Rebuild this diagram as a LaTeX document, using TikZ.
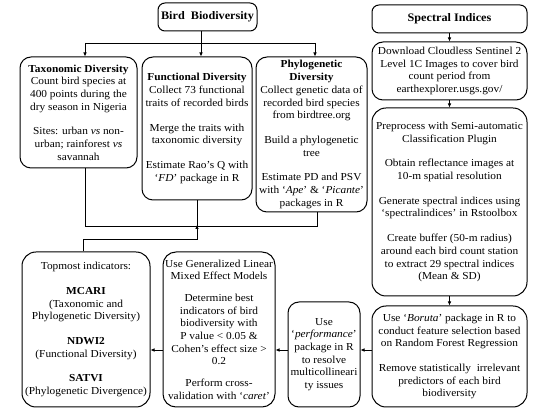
\documentclass[tikz,border=0pt]{standalone}
\usepackage{fontspec}
\setmainfont{Liberation Serif}[FakeStretch=1.06]
\usetikzlibrary{arrows.meta}
\begin{document}
\begin{tikzpicture}[x=1pt,y=-1pt,
  box/.style={draw, line width=1pt, rounded corners=11pt, align=center, inner sep=0pt,
    font=\fontsize{10.7}{12.7}\selectfont},
  title/.style={box, font=\fontsize{11.5}{13}\selectfont\bfseries},
  arr/.style={-{Latex[length=4pt,width=3.6pt]}, line width=0.9pt},
  ln/.style={line width=0.9pt}]
\useasboundingbox (0,0) rectangle (544,411);
\fill[white] (0,0) rectangle (544,411);
% left part
\node[title, minimum width=99pt, minimum height=28pt, rounded corners=7pt] (bb) at (207.5,17) {Bird\ \ Biodiversity};
\node[box, minimum width=117pt, minimum height=111pt] (tax) at (78.5,112.5)
 {\textbf{Taxonomic Diversity}\\Count bird species at\\400 points during the\\dry season in Nigeria\\[12pt]
  Sites: urban \textit{vs} non-\\urban; rainforest \textit{vs}\\savannah};
\node[box, minimum width=110pt, minimum height=143pt] (fun) at (197,128.5)
 {\textbf{Functional Diversity}\\Collect 73 functional\\traits of recorded birds\\[12pt]
  Merge the traits with\\taxonomic diversity\\[12pt]
  Estimate Rao's Q with\\`\textit{FD}' package in R};
\node[box, minimum width=111pt, minimum height=155pt] (phy) at (311.5,134.5)
 {\textbf{Phylogenetic}\\\textbf{Diversity}\\Collect genetic data of\\recorded bird species\\from birdtree.org\\[12pt]
  Build a phylogenetic\\tree\\[12pt]
  Estimate PD and PSV\\with `\textit{Ape}' \& `\textit{Picante}'\\packages in R};
% right column
\node[title, minimum width=155pt, minimum height=28pt, rounded corners=7pt] (spec) at (449.5,19) {Spectral Indices};
\node[box, minimum width=155pt, minimum height=58pt] (dl) at (449.5,71)
 {Download Cloudless Sentinel 2\\Level 1C Images to cover bird\\count period from\\earthexplorer.usgs.gov/};
\node[box, minimum width=155pt, minimum height=188pt, rounded corners=14pt] (pre) at (449.5,202)
 {Preprocess with Semi-automatic\\Classification Plugin\\[12pt]
  Obtain reflectance images at\\10-m spatial resolution\\[12pt]
  Generate spectral indices using\\`spectralindices' in Rstoolbox\\[12pt]
  Create buffer (50-m radius)\\around each bird count station\\to extract 29 spectral indices\\(Mean \& SD)};
\node[box, minimum width=155pt, minimum height=101pt, rounded corners=14pt] (bor) at (449.5,356.5)
 {Use `\textit{Boruta}' package in R to\\conduct feature selection based\\on Random Forest Regression\\[12pt]
  Remove statistically\ \ irrelevant\\predictors of each bird\\biodiversity};
\node[box, minimum width=72pt, minimum height=105pt] (perf) at (324,354.5)
 {Use\\`\textit{performance}'\\package in R\\to resolve\\multicollineari\\ty issues};
\node[box, minimum width=112pt, minimum height=155pt, rounded corners=13pt] (glmm) at (219,329.5)
 {Use Generalized Linear\\Mixed Effect Models\\[9pt]
  Determine best\\indicators of bird\\biodiversity with\\P value < 0.05 \&\\Cohen's effect size >\\0.2\\[9pt]
  Perform cross-\\validation with `\textit{caret}'};
\node[box, minimum width=128pt, minimum height=155pt, rounded corners=14pt] (top) at (86,329.5)
 {Topmost indicators:\\[12pt]
  \textbf{MCARI}\\(Taxonomic and\\Phylogenetic Diversity)\\[12pt]
  \textbf{NDWI2}\\(Functional Diversity)\\[12pt]
  \textbf{SATVI}\\(Phylogenetic Divergence)};
% connectors top
\coordinate (j1) at (201,43);
\coordinate (jt) at (85,43);
\coordinate (jp) at (315,43);
\draw[ln] (bb.south -| j1) -- (j1);
\draw[ln] (jt) -- (jp);
\draw[arr] (jt) -- (jt |- tax.north);
\draw[arr] (j1) -- (j1 |- fun.north);
\draw[arr] (jp) -- (jp |- phy.north);
% connectors bottom
\coordinate (bt) at (85,226);
\coordinate (bp) at (317,226);
\coordinate (bf) at (197,226);
\coordinate (bl) at (83,239);
\coordinate (bm) at (197,239);
\draw[ln] (bt |- tax.south) -- (bt) -- (bp) -- (bp |- phy.south);
\draw[ln] (fun.south) -- (bf);
\draw[arr] (bl |- top.north) -- (bl) -- (bm) -- ([yshift=1pt]bf);
% right column
\coordinate (a) at (0,350);
\draw[arr] (spec) -- (dl);
\draw[arr] (dl) -- (pre);
\draw[arr] (pre) -- (bor);
\draw[arr] (bor.west |- a) -- (perf.east |- a);
\draw[arr] (perf.west |- a) -- (glmm.east |- a);
\draw[arr] (glmm.west |- a) -- (top.east |- a);
\end{tikzpicture}
\end{document}
